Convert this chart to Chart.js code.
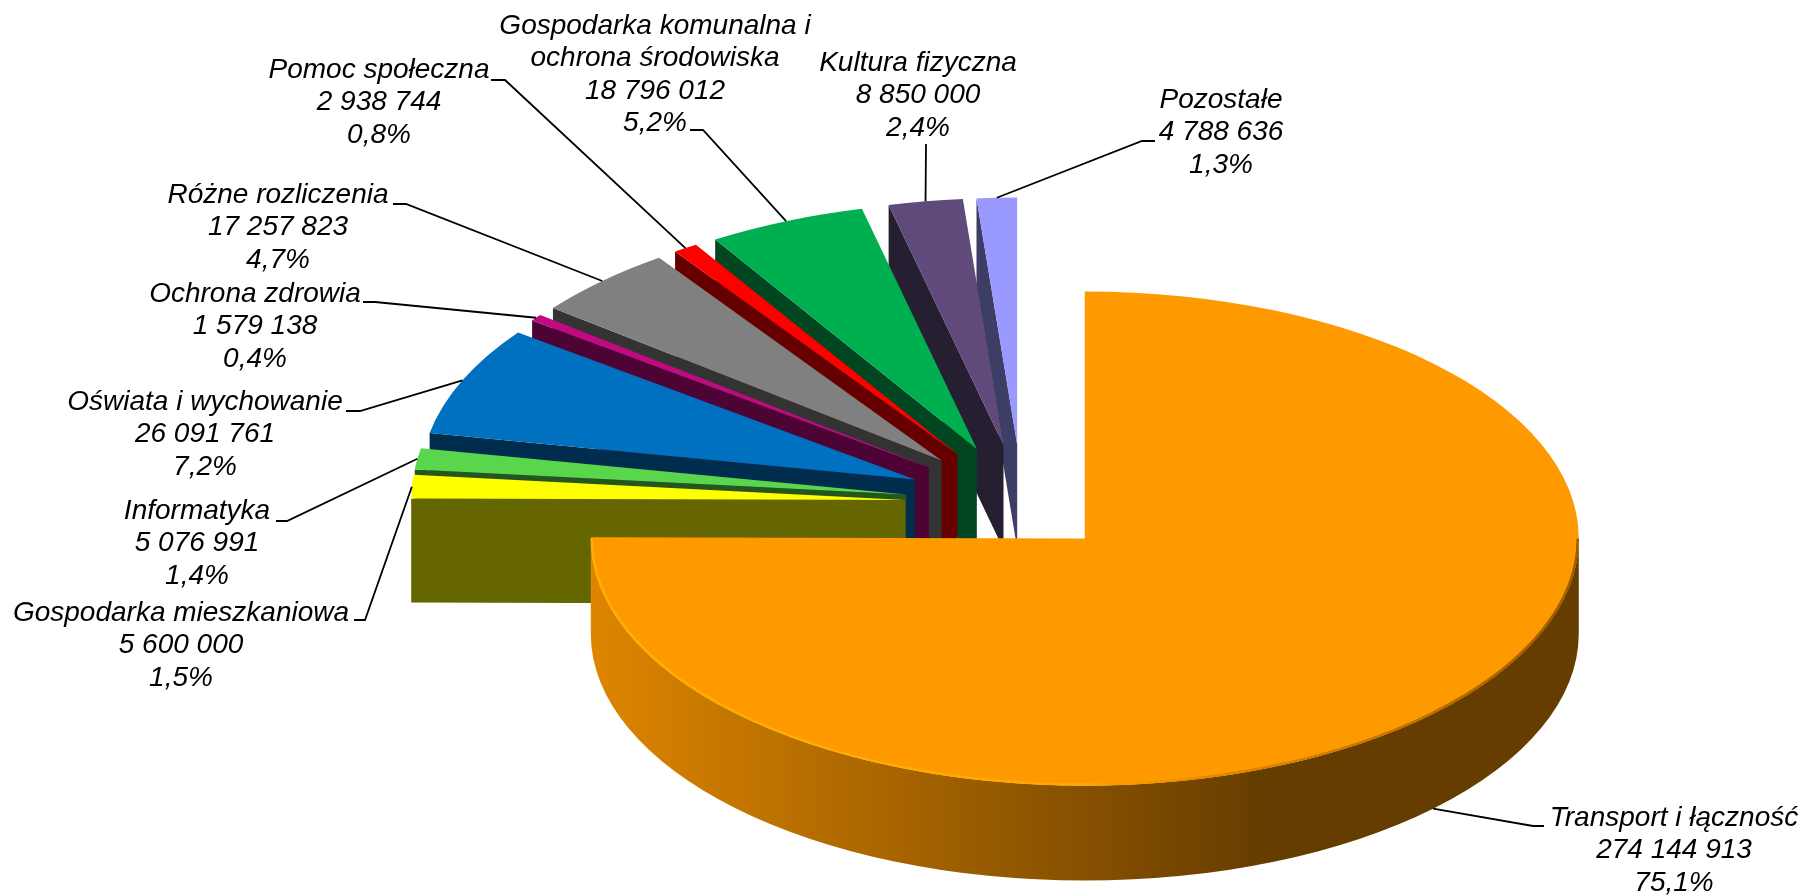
<!DOCTYPE html>
<html lang="pl">
<head>
<meta charset="utf-8">
<title>Wydatki</title>
<script src="https://cdn.jsdelivr.net/npm/chart.js@4/dist/chart.umd.min.js"></script>
<style>
    html, body { margin: 0; padding: 0; background: #fff; }
    canvas { display: block; }
</style>
</head>
<body>
<canvas id="pieChart" width="1807" height="896"></canvas>
<script>
// Dane
const categories = [
    ['Transport i łączność'],
    ['Gospodarka mieszkaniowa'],
    ['Informatyka'],
    ['Oświata i wychowanie'],
    ['Ochrona zdrowia'],
    ['Różne rozliczenia'],
    ['Pomoc społeczna'],
    ['Gospodarka komunalna i', 'ochrona środowiska'],
    ['Kultura fizyczna'],
    ['Pozostałe']
];
const amounts = [274144913, 5600000, 5076991, 26091761, 1579138, 17257823, 2938744, 18796012, 8850000, 4788636];
const percents = ['75,1%', '1,5%', '1,4%', '7,2%', '0,4%', '4,7%', '0,8%', '5,2%', '2,4%', '1,3%'];
const sliceColors = ['#ff9900', '#ffff00', '#5ad64c', '#0070c0', '#c00a82', '#808080', '#ff0000', '#00b050', '#604a7b', '#9999ff'];

// Wygląd "3D" i rozsunięcie wycinków
const pieCenter = { x: 1022, y: 503 };
const pieRadius = 494;
const squash = 0.5;
const explode = [89, 117, 117, 117, 117, 117, 117, 117, 117, 117];
const extraDrop = [4, 0, 0, 0, 0, 0, 0, 0, 0, 0];
const depths = [95, 104, 104, 104, 104, 104, 104, 104, 104, 104];
const font = 'italic 28px "Liberation Sans", Arial, sans-serif';
const lineHeight = 32.5;

// Środek pierwszej linii etykiety i załamanie linii odniesienia
const labelBoxes = [
    { x: 1674, y: 818 }, { x: 181, y: 613 }, { x: 197, y: 511 }, { x: 205, y: 402 }, { x: 255, y: 294 },
    { x: 278, y: 195 }, { x: 379, y: 70 }, { x: 655, y: 26 }, { x: 918, y: 63 }, { x: 1221, y: 100 }
];
const leaderKnees = [
    [[1544, 826], [1533, 826]], [[354, 620], [365, 620]], [[276, 521], [287, 521]], [[346, 411], [360, 411]], [[363, 302], [375, 302]],
    [[393, 204], [406, 204]], [[491, 80], [505, 80]], [[690, 130], [703, 130]], [[926, 144]], [[1155, 141], [1142, 141]]
];

const formatAmount = v => String(v).replace(/\B(?=(\d{3})+$)/g, ' ');

function darker(hex) {
    const n = parseInt(hex.slice(1), 16);
    const c = [(n >> 16) & 255, (n >> 8) & 255, n & 255].map(v => Math.round(v * 0.4));
    return `rgb(${c[0]},${c[1]},${c[2]})`;
}

// Środek wycinka na ekranie po rozsunięciu
function sliceOrigin(arc, i) {
    const mid = (arc.startAngle + arc.endAngle) / 2;
    return {
        x: pieCenter.x + Math.cos(mid) * explode[i],
        y: pieCenter.y + Math.sin(mid) * explode[i] * squash + extraDrop[i]
    };
}

function drawWalls(ctx, arc, i) {
    const o = sliceOrigin(arc, i);
    const r = arc.outerRadius;
    const depth = depths[i];
    // scianka boczna
    const ex = o.x + Math.cos(arc.startAngle) * r;
    const ey = o.y + Math.sin(arc.startAngle) * r * squash;
    ctx.fillStyle = darker(sliceColors[i]);
    ctx.beginPath();
    ctx.moveTo(o.x, o.y);
    ctx.lineTo(ex, ey);
    ctx.lineTo(ex, ey + depth);
    ctx.lineTo(o.x, o.y + depth);
    ctx.closePath();
    ctx.fill();

    // scianka zewnetrzna, widoczna tylko z przodu
    const a0 = Math.max(arc.startAngle, 0);
    const a1 = Math.min(arc.endAngle, Math.PI);
    if (a1 > a0) {
        const g = ctx.createLinearGradient(o.x - r, 0, o.x + r, 0);
        g.addColorStop(0, '#de8500');
        g.addColorStop(0.68, '#663d00');
        g.addColorStop(1, '#663d00');
        ctx.fillStyle = g;
        ctx.beginPath();
        ctx.ellipse(o.x, o.y, r, r * squash, 0, a0, a1);
        ctx.ellipse(o.x, o.y + depth, r, r * squash, 0, a1, a0, true);
        ctx.closePath();
        ctx.fill();
    }
}

function drawTop(ctx, arc, i) {
    const o = sliceOrigin(arc, i);
    ctx.save();
    ctx.translate(o.x, o.y);
    ctx.scale(1, squash);
    ctx.translate(-arc.x, -arc.y);
    arc.draw(ctx);
    ctx.restore();

    // jasna krawedz na duzym wycinku
    const a0 = Math.max(arc.startAngle, 0);
    const a1 = Math.min(arc.endAngle, Math.PI);
    if (a1 > a0) {
        const r = arc.outerRadius;
        const g = ctx.createLinearGradient(o.x - r, 0, o.x + r, 0);
        g.addColorStop(0, '#ffb000');
        g.addColorStop(0.5, '#ffa800');
        g.addColorStop(0.62, '#e58a00');
        g.addColorStop(1, '#9a5c00');
        ctx.strokeStyle = g;
        ctx.lineWidth = 2.5;
        ctx.beginPath();
        ctx.ellipse(o.x, o.y, r - 1, r * squash - 1, 0, a0, a1);
        ctx.stroke();
    }
}

function drawLabels(ctx, arcs) {
    ctx.fillStyle = '#000';
    ctx.font = font;
    ctx.textAlign = 'center';
    ctx.textBaseline = 'middle';
    categories.forEach((name, i) => {
        const lines = [...name, formatAmount(amounts[i]), percents[i]];
        lines.forEach((t, k) => ctx.fillText(t, labelBoxes[i].x, labelBoxes[i].y + k * lineHeight));

        // linia odniesienia konczy sie na srodku luku wycinka
        const arc = arcs[i];
        const o = sliceOrigin(arc, i);
        const mid = (arc.startAngle + arc.endAngle) / 2;
        const endX = o.x + Math.cos(mid) * arc.outerRadius;
        const endY = o.y + Math.sin(mid) * arc.outerRadius * squash + (Math.sin(mid) > 0 ? depths[i] : 0);
        ctx.strokeStyle = '#000';
        ctx.lineWidth = 1.8;
        ctx.beginPath();
        leaderKnees[i].forEach((p, k) => k ? ctx.lineTo(p[0], p[1]) : ctx.moveTo(p[0], p[1]));
        ctx.lineTo(endX, endY);
        ctx.stroke();
    });
}

const pie3d = {
    id: 'pie3d',
    beforeDatasetDraw() {
        return false;
    },
    afterDatasetsDraw(chart) {
        const ctx = chart.ctx;
        const arcs = chart.getDatasetMeta(0).data;
        // od tylu do przodu: najpierw male wycinki, duzy na koncu
        for (let i = arcs.length - 1; i >= 0; i--) {
            drawWalls(ctx, arcs[i], i);
            drawTop(ctx, arcs[i], i);
        }
        drawLabels(ctx, arcs);
    }
};

new Chart(document.getElementById('pieChart'), {
    type: 'pie',
    data: {
        labels: categories,
        datasets: [{
            data: amounts,
            backgroundColor: sliceColors,
            borderWidth: 0
        }]
    },
    options: {
        responsive: false,
        animation: false,
        radius: pieRadius,
        layout: { padding: 0 },
        events: [],
        plugins: {
            legend: { display: false },
            tooltip: { enabled: false }
        }
    },
    plugins: [pie3d]
});
</script>
</body>
</html>
